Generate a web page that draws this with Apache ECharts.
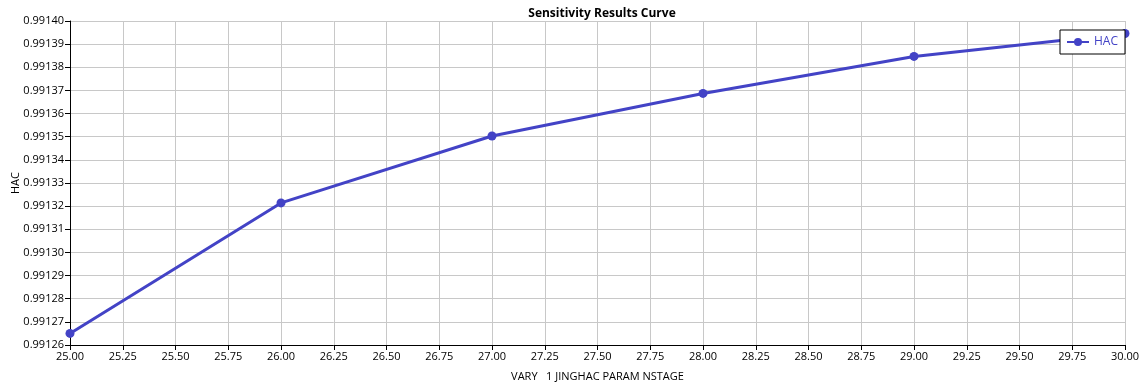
<!DOCTYPE html>
<html>
<head>
<meta charset="utf-8">
<script src="https://cdn.jsdelivr.net/npm/echarts@6/dist/echarts.min.js"></script>
<style>html,body{margin:0;padding:0;background:#fff}#c{width:1145px;height:389px}</style>
</head>
<body>
<div id="c"></div>
<script>
const xValues = [25, 26, 27, 28, 29, 30];
const hacValues = [0.991265, 0.9913214, 0.9913503, 0.9913687, 0.9913847, 0.9913946];
const seriesName = 'HAC';
const titleText = 'Sensitivity Results Curve';
const xAxisName = 'VARY   1 JINGHAC PARAM NSTAGE';
const yAxisName = 'HAC';

const font = '"Open Sans", "Noto Sans", sans-serif';
const color = '#4343C6';
const chart = echarts.init(document.getElementById('c'), null, {renderer: 'canvas'});
chart.setOption({
  animation: false,
  title: {
    text: titleText, left: 597, top: 3, textAlign: 'center',
    textStyle: {fontFamily: font, fontSize: 12, fontWeight: 'bold', color: '#000'}
  },
  legend: {
    data: [seriesName], right: 20, top: 30,
    borderColor: '#000', borderWidth: 1, padding: [6, 7, 6, 6],
    itemWidth: 22, itemHeight: 10, itemGap: 4, backgroundColor: '#fff',
    textStyle: {fontFamily: font, fontSize: 12, color: color}
  },
  grid: {left: 70, right: 20, top: 21, bottom: 44, containLabel: false, outerBoundsMode: 'none'},
  xAxis: {
    type: 'value', min: 25, max: 30, interval: 0.25,
    name: xAxisName, nameLocation: 'middle', nameGap: 26, nameMoveOverlap: false,
    nameTextStyle: {fontFamily: font, fontSize: 11, color: '#000'},
    axisLine: {lineStyle: {color: '#000', width: 1}},
    axisTick: {show: true, length: 5, lineStyle: {color: '#000'}},
    axisLabel: {fontFamily: font, fontSize: 11, color: '#000', margin: 6,
      formatter: v => v.toFixed(2)},
    splitLine: {show: true, lineStyle: {color: '#c8c8c8', width: 1}}
  },
  yAxis: {
    type: 'value', min: 0.99126, max: 0.99140, interval: 0.00001,
    name: yAxisName, nameLocation: 'middle', nameGap: 49, nameRotate: 90, nameMoveOverlap: false,
    nameTextStyle: {fontFamily: font, fontSize: 11, color: '#000'},
    axisLine: {show: true, lineStyle: {color: '#000', width: 1}},
    axisTick: {show: true, length: 5, lineStyle: {color: '#000'}},
    axisLabel: {fontFamily: font, fontSize: 11, color: '#000', margin: 6,
      formatter: v => v.toFixed(5)},
    splitLine: {show: true, lineStyle: {color: '#c8c8c8', width: 1}}
  },
  series: [{
    name: seriesName, type: 'line',
    data: xValues.map((x, i) => [x, hacValues[i]]),
    symbol: 'circle', symbolSize: 9,
    lineStyle: {color: color, width: 3},
    itemStyle: {color: color},
    clip: false
  }]
});
</script>
</body>
</html>
